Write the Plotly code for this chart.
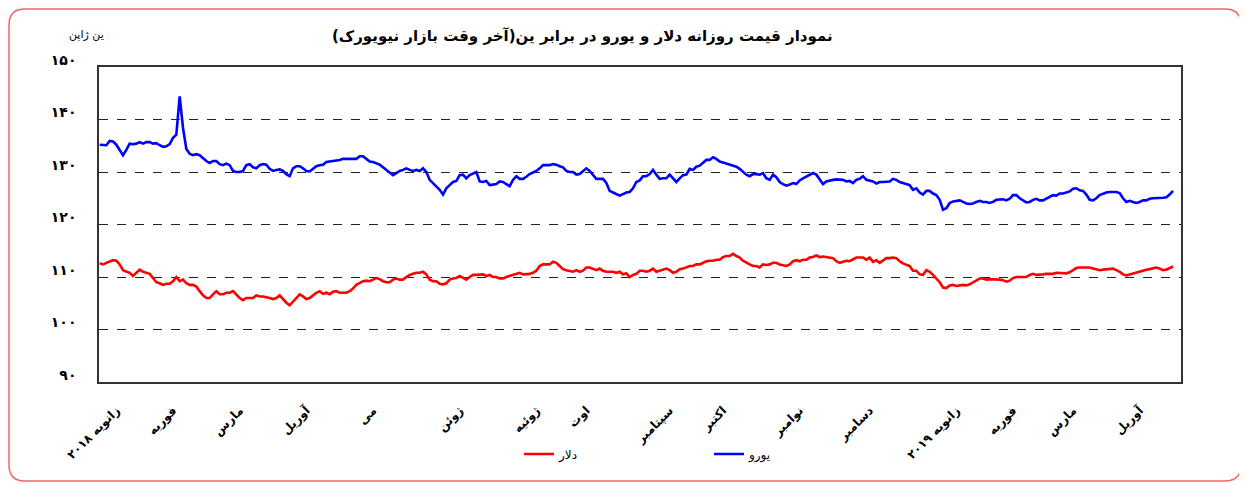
import plotly.graph_objects as go

# ---------------- data ----------------
euro = [
    # Jan 2018 - May 2018
    135.2, 135.2, 135.1, 135.9, 135.8, 135.2, 134.2, 133.2, 134.2, 135.4,
    135.3, 135.4, 135.7, 135.4, 135.7, 135.7, 135.4, 135.5, 135.1, 134.8,
    134.9, 135.3, 136.5, 137.1, 144.4, 138.4, 134.4, 133.5, 133.2, 133.4,
    133.2, 132.6, 132.1, 131.7, 132.1, 132.1, 131.5, 131.3, 131.6, 131.3,
    130.2, 130.0, 130.0, 130.2, 131.3, 131.5, 130.9, 130.7, 131.3, 131.5,
    131.4, 130.6, 130.2, 130.4, 130.5, 130.2, 129.6, 129.2, 130.7, 131.1,
    131.1, 130.7, 130.2, 130.1, 130.6, 131.1, 131.3, 131.4, 131.9, 132.0,
    132.0, 132.2, 132.3, 132.5, 132.5, 132.5, 132.5, 132.5, 133.0, 133.0,
    132.5, 132.0, 131.9,
    # May 2018 - Sep 2018
    131.7, 131.4, 130.9, 130.4, 130.0, 129.4, 129.8, 130.2, 130.4, 130.7,
    130.4, 130.2, 130.4, 130.2, 130.7, 130.0, 128.5, 127.9, 127.3, 126.6,
    125.7, 126.9, 127.5, 128.1, 128.3, 129.4, 129.5, 128.8, 129.4, 129.7,
    130.0, 128.2, 128.1, 128.3, 127.5, 127.6, 127.7, 128.2, 128.1, 127.7,
    127.3, 128.5, 129.2, 128.7, 128.7, 129.1, 129.6, 129.9, 130.2, 130.7,
    131.3, 131.3, 131.3, 131.5, 131.4, 131.1, 130.9, 130.2, 130.0, 130.0,
    129.5, 129.6, 130.2, 130.7, 130.2, 129.5, 128.7, 128.7, 128.7, 127.9,
    126.4, 126.1, 125.8, 125.5, 125.8, 126.1, 126.2, 126.9, 128.1, 128.4,
    129.2,
    # Sep 2018 - Dec 2018
    129.2, 129.6, 130.4, 129.5, 128.7, 128.8, 128.8, 129.5, 128.7, 128.1,
    128.8, 129.4, 129.5, 130.6, 130.4, 131.0, 131.2, 131.7, 132.3, 132.3,
    132.8, 132.5, 132.0, 131.8, 131.6, 131.4, 131.1, 131.0, 130.6, 130.1,
    129.5, 129.2, 129.6, 129.6, 129.5, 129.8, 128.8, 128.5, 129.5, 129.0,
    128.1, 127.7, 127.4, 127.6, 127.9, 127.7, 128.4, 128.8, 129.1, 129.4,
    129.8, 129.5, 128.5, 127.7, 128.2, 128.4, 128.5, 128.6, 128.5, 128.5,
    128.2, 128.3, 127.9, 128.5, 128.7, 129.2, 128.5, 128.3, 128.2, 127.8,
    128.1, 128.1, 128.2, 128.2, 128.7, 128.5, 128.1, 127.9, 127.8, 127.5,
    126.6,
    # Dec 2018 - Apr 2019
    126.9, 126.1, 125.7, 126.4, 126.4, 125.9, 125.6, 124.7, 122.8, 123.1,
    124.1, 124.4, 124.5, 124.6, 124.3, 124.0, 123.9, 124.0, 124.3, 124.5,
    124.3, 124.3, 124.1, 124.3, 124.7, 124.7, 124.8, 124.6, 124.9, 125.6,
    125.6, 125.0, 124.6, 124.2, 124.3, 124.7, 124.9, 124.6, 124.6, 124.9,
    125.2, 125.6, 125.5, 125.9, 125.9, 126.1, 126.3, 126.8, 126.9, 126.5,
    126.4, 125.7, 124.7, 124.6, 125.0, 125.6, 125.9, 126.1, 126.2, 126.2,
    126.2, 126.0, 125.0, 124.3, 124.5, 124.3, 124.1, 124.3, 124.6, 124.6,
    124.9, 125.0, 125.0, 125.1, 125.1, 125.2, 125.7, 126.4,
]

dollar = [
    # Jan 2018 - May 2018
    112.6, 112.4, 112.7, 113.0, 113.2, 113.1, 112.4, 111.3, 111.0, 110.8,
    110.2, 110.8, 111.4, 111.0, 110.8, 110.6, 109.8, 109.0, 108.8, 108.5,
    108.7, 108.7, 109.2, 110.0, 109.2, 109.5, 108.8, 108.5, 108.5, 108.2,
    107.3, 106.5, 106.0, 106.0, 106.7, 107.3, 106.7, 106.7, 107.0, 107.0,
    107.3, 106.7, 106.0, 105.6, 106.0, 106.0, 106.0, 106.5, 106.3, 106.3,
    106.2, 106.0, 105.8, 106.0, 106.5, 105.7, 105.1, 104.6, 105.3, 106.0,
    106.7, 106.3, 105.8, 106.0, 106.5, 107.0, 107.3, 106.8, 107.0, 106.7,
    107.2, 107.3, 107.0, 107.0, 107.0, 107.3, 107.8, 108.5, 108.8, 109.2,
    109.3, 109.2, 109.5,
    # May 2018 - Sep 2018
    109.8, 109.6, 109.2, 109.0, 109.0, 109.5, 109.7, 109.5, 109.5, 110.0,
    110.4, 110.6, 110.8, 110.8, 111.0, 110.5, 109.5, 109.2, 109.2, 108.7,
    108.6, 108.8, 109.5, 109.7, 109.8, 110.2, 109.8, 109.5, 110.0, 110.4,
    110.4, 110.5, 110.5, 110.2, 110.4, 110.0, 110.0, 109.7, 109.7, 110.0,
    110.2, 110.5, 110.7, 110.8, 110.5, 110.5, 110.6, 110.8, 111.2, 112.1,
    112.4, 112.4, 112.4, 112.9, 112.7, 112.1, 111.5, 111.3, 111.2, 111.0,
    111.3, 111.0, 111.2, 111.8, 111.8, 111.5, 111.3, 111.6, 111.2, 111.0,
    111.0, 111.0, 110.8, 111.0, 110.5, 110.7, 110.0, 110.4, 110.6, 111.2,
    111.2,
    # Sep 2018 - Dec 2018
    111.0, 111.2, 111.6, 111.0, 111.2, 111.5, 111.6, 111.3, 110.8, 111.0,
    111.5, 111.6, 111.9, 112.1, 112.1, 112.4, 112.4, 112.7, 113.0, 113.1,
    113.1, 113.3, 113.3, 113.8, 114.0, 114.0, 114.4, 114.0, 113.7, 113.1,
    112.7, 112.4, 112.1, 112.1, 111.8, 112.4, 112.3, 112.4, 112.7, 112.7,
    112.4, 112.2, 112.1, 112.4, 113.0, 113.2, 113.0, 113.3, 113.3, 113.7,
    113.8, 114.1, 113.8, 113.9, 113.8, 113.8, 113.6, 113.0, 112.7, 112.9,
    113.1, 113.0, 113.3, 113.7, 113.7, 113.7, 113.3, 113.7, 112.9, 113.2,
    112.7, 113.1, 113.6, 113.6, 113.7, 113.6, 113.0, 112.6, 112.4, 112.1,
    111.2,
    # Dec 2018 - Apr 2019
    111.2, 110.5, 110.4, 111.3, 111.0, 110.4, 109.7, 109.0, 108.0, 107.9,
    108.4, 108.5, 108.3, 108.4, 108.5, 108.4, 108.6, 109.0, 109.3, 109.7,
    109.7, 109.5, 109.6, 109.6, 109.5, 109.5, 109.4, 109.1, 109.3, 109.8,
    110.0, 110.0, 110.0, 110.0, 110.4, 110.6, 110.4, 110.4, 110.5, 110.6,
    110.6, 110.6, 110.8, 110.8, 110.7, 110.7, 110.9, 111.3, 111.7, 111.8,
    111.8, 111.8, 111.8, 111.6, 111.4, 111.3, 111.4, 111.5, 111.6, 111.6,
    111.3, 111.0, 110.5, 110.3, 110.5, 110.7, 110.8, 111.0, 111.2, 111.4,
    111.5, 111.7, 111.8, 111.6, 111.3, 111.4, 111.7, 112.0,
]

day = list(range(len(euro)))

month_tick_days = [5, 22, 42, 62, 82, 108, 131, 146, 171, 187, 210, 231, 257, 274, 292, 312]
month_labels = [
    "زانویه ۲۰۱۸", "فوریه", "مارس", "آوریل", "می", "ژوئن", "ژوئیه", "اوت",
    "سپتامبر", "اکتبر", "نوامبر", "دسامبر", "زانویه ۲۰۱۹", "فوریه", "مارس", "آوریل",
]

y_tick_values = [90, 100, 110, 120, 130, 140, 150]
y_tick_labels = ["۹۰", "۱۰۰", "۱۱۰", "۱۲۰", "۱۳۰", "۱۴۰", "۱۵۰"]

series_names = ["دلار", "یورو"]
title_text = "\u200fنمودار قیمت روزانه دلار و یورو در برابر ین(آخر وقت بازار نیویورک)\u200f"
unit_text = "ین ژاپن"

# ---------------- layout geometry (page pixels) ----------------
OFF = 8                      # default page body margin
W, H = 1247 - OFF, 484 - OFF
PL, PR, PT, PB = 99, 1181, 67, 382   # plot area, page px
FONT = "DejaVu Sans"


def px(x):
    return (x - PL) / (PR - PL)


def py(y):
    return (PB - y) / (PB - PT)


fig = go.Figure()
fig.add_trace(go.Scatter(x=day, y=dollar, mode="lines", name=series_names[0],
                         line=dict(color="#ff0000", width=2.6)))
fig.add_trace(go.Scatter(x=day, y=euro, mode="lines", name=series_names[1],
                         line=dict(color="#0000ff", width=2.6)))

# rounded outer frame
bx0, bx1, by0, by1, r = 9, 1241, 9, 481, 16
x0, x1 = px(bx0), px(bx1)
yt, yb = py(by0), py(by1)
rx, ry = r / (PR - PL), r / (PB - PT)
path = (f"M {x0+rx},{yt} L {x1-rx},{yt} Q {x1},{yt} {x1},{yt-ry} "
        f"L {x1},{yb+ry} Q {x1},{yb} {x1-rx},{yb} "
        f"L {x0+rx},{yb} Q {x0},{yb} {x0},{yb+ry} "
        f"L {x0},{yt-ry} Q {x0},{yt} {x0+rx},{yt} Z")
fig.add_shape(type="path", path=path, xref="paper", yref="paper",
              line=dict(color="#f26666", width=1.5), layer="below")

fig.update_layout(
    width=W, height=H,
    margin=dict(l=PL - OFF, r=W - (PR - OFF), t=PT - OFF, b=H - (PB - OFF)),
    paper_bgcolor="white", plot_bgcolor="white",
    font=dict(family=FONT, color="black"),
    showlegend=True,
    legend=dict(orientation="h", x=px(519), y=py(454), xanchor="left", yanchor="middle",
                entrywidth=145, entrywidthmode="pixels",
                font=dict(size=12, family=FONT), bgcolor="rgba(0,0,0,0)"),
    annotations=[
        dict(text="<b>" + title_text + "</b>", x=px(582), y=py(36), xref="paper", yref="paper",
             showarrow=False, font=dict(size=15, family=FONT), xanchor="center", yanchor="middle"),
        dict(text=unit_text, x=px(106), y=py(35), xref="paper", yref="paper",
             showarrow=False, font=dict(size=11, family=FONT), xanchor="right", yanchor="middle"),
    ],
)

fig.update_xaxes(
    range=[-0.2, 324.4], tickmode="array", tickvals=month_tick_days, ticktext=month_labels,
    tickangle=-45, ticks="", ticklabelstandoff=15,
    tickfont=dict(size=12, family=FONT, weight="bold"),
    showgrid=False, zeroline=False,
    showline=True, mirror=True, linecolor="#333333", linewidth=1.5,
)
fig.update_yaxes(
    range=[90, 150], tickmode="array", tickvals=y_tick_values, ticktext=y_tick_labels,
    ticks="", ticklabelstandoff=18, ticklabelshift=-7,
    tickfont=dict(size=14, family=FONT, weight="bold"),
    showgrid=True, gridcolor="#222222", griddash="dash", gridwidth=1,
    zeroline=False,
    showline=True, mirror=True, linecolor="#333333", linewidth=1.5,
)

fig.write_html("out.html")
